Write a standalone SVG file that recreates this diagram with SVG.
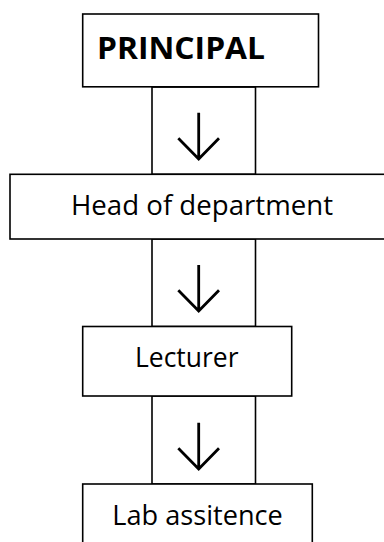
<svg xmlns="http://www.w3.org/2000/svg" width="384" height="542" viewBox="0 0 384 542">
<style>
.box{fill:#fff;stroke:#000;stroke-width:1.6}
.lbl{font-family:"Open Sans","Noto Sans","Liberation Sans",sans-serif;fill:#000}
.arr{fill:none;stroke:#000;stroke-width:2.8;stroke-linecap:butt}
</style>
<rect width="384" height="542" fill="#fff"/>
<g id="connectors">
<g id="c1"><rect class="box" x="152" y="87" width="103.5" height="87.3"/><path class="arr" d="M198.7 112.7V159M178.3 138.3L198.7 159L219 138.3"/></g>
<g id="c2"><rect class="box" x="152" y="239" width="103.5" height="87.5"/><path class="arr" d="M198.7 265V311M178.3 290.3L198.7 311L219 290.3"/></g>
<g id="c3"><rect class="box" x="152" y="396" width="103.5" height="88"/><path class="arr" d="M198.7 422.7V469M178.3 448.3L198.7 469L219 448.3"/></g>
</g>
<g id="principal"><rect class="box" x="82.7" y="14" width="235.8" height="72.8"/><text class="lbl" x="97" y="59.3" font-size="31" font-weight="bold" textLength="168" lengthAdjust="spacingAndGlyphs">PRINCIPAL</text></g>
<g id="hod"><rect class="box" x="10" y="174.3" width="380" height="64.7"/><text class="lbl" x="71" y="215" font-size="26.5" textLength="262" lengthAdjust="spacingAndGlyphs">Head of department</text></g>
<g id="lecturer"><rect class="box" x="82.7" y="326.5" width="209" height="69.5"/><text class="lbl" x="135" y="366.7" font-size="27" textLength="103.5" lengthAdjust="spacingAndGlyphs">Lecturer</text></g>
<g id="lab"><rect class="box" x="82.7" y="484" width="229.6" height="70"/><text class="lbl" x="112.3" y="525" font-size="27" textLength="170.5" lengthAdjust="spacingAndGlyphs">Lab assitence</text></g>
</svg>
